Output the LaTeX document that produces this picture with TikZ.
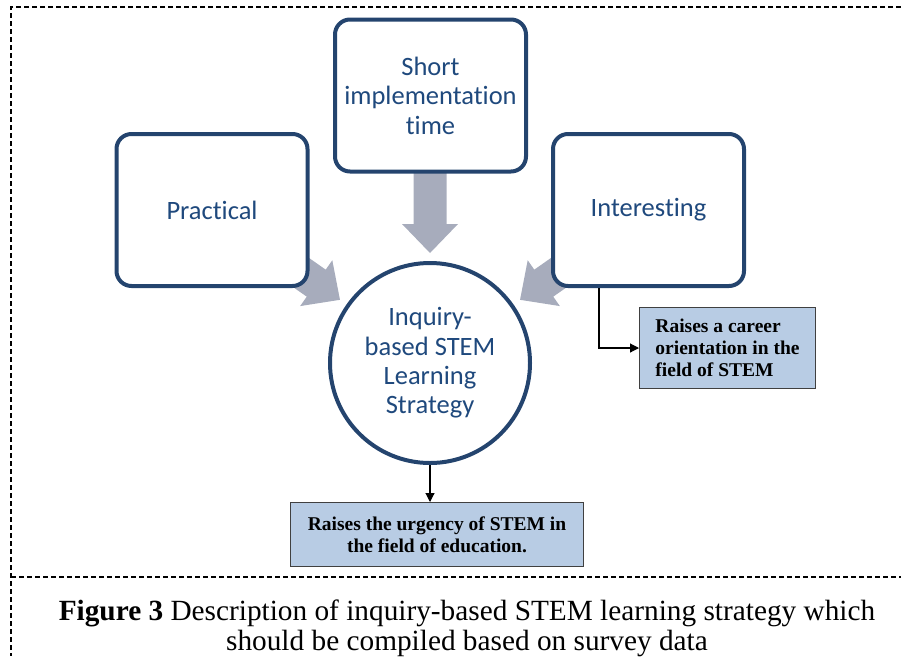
\documentclass[tikz,border=0pt]{standalone}
\usepackage{fontspec}
\setmainfont{Liberation Serif}
\newfontfamily\calfont[Ligatures=NoCommon]{Carlito}
\usetikzlibrary{arrows.meta}
\definecolor{boxblue}{RGB}{36,68,110}
\definecolor{txtblue}{RGB}{31,73,125}
\definecolor{arrowgray}{RGB}{167,172,188}
\definecolor{notefill}{RGB}{184,204,228}
\definecolor{noteline}{RGB}{64,64,64}
\begin{document}
\begin{tikzpicture}[x=1pt,y=1pt,
  bigbox/.style={draw=boxblue, line width=4pt, rounded corners=15pt, fill=white,
    minimum width=191pt, minimum height=152pt, align=center, inner sep=0pt,
    font=\calfont\fontsize{26.5}{29.5}\selectfont, text=txtblue},
  hub/.style={circle, draw=boxblue, line width=4pt, fill=white, minimum size=200pt,
    align=center, inner sep=0pt, font=\calfont\fontsize{26.5}{29.3}\selectfont, text=txtblue},
  note/.style={draw=noteline, line width=1.2pt, fill=notefill, inner sep=0pt,
    font=\bfseries\fontsize{19.5}{22}\selectfont},
  blockarrow/.style={fill=arrowgray},
  link/.style={line width=1.1pt, -{Triangle[length=9pt,width=9pt]}},
  framedash/.style={line width=1.1pt, dash pattern=on 5pt off 3pt},
  captext/.style={font=\fontsize{29.3}{31}\selectfont, anchor=base}
]
\useasboundingbox (0,0) rectangle (901,-656);

% frame
\draw[framedash] (901,-7) -- (11,-7) -- (11,-656);
\draw[framedash] (11,-577) -- (901,-577);

% block arrows (behind boxes)
\foreach \a in {90,35.06,144.94}
  \fill[blockarrow, shift={(430,-363)}, rotate=\a]
    (110,0) -- (139,28) -- (139,16.5) -- (205,16.5) -- (205,-16.5) -- (139,-16.5) -- (139,-28) -- cycle;

% main nodes
\node[bigbox] (prac) at (212,-210) {Practical};
\node[bigbox] (short) at (430.5,-95.5) {Short\\implementation\\time};
\node[bigbox] (inter) at (648.5,-210) {Interesting};
\node[hub] (hub) at (430,-363) {Inquiry-\\based STEM\\Learning\\Strategy};

% notes
\node[note, minimum width=175.8pt, minimum height=80.8pt, align=left] (career) at (727.5,-348)
  {Raises a career\\orientation in the\\field of STEM};
\node[note, minimum width=292.8pt, minimum height=63.8pt, align=center] (urgency) at (437,-534.5)
  {Raises the urgency of STEM in\\the field of education.};

% connectors
\coordinate (ib) at ([xshift=-49.5pt]inter.south);
\draw[link] (ib) |- (career.west);
\draw[link] (hub.south) -- (hub.south |- urgency.north);

% caption
\node[captext] (cap1) at (467,-620) {\textbf{Figure 3} Description of inquiry-based STEM learning strategy which};
\node[captext] (cap2) at (467,-650) {should be compiled based on survey data};
\end{tikzpicture}
\end{document}
